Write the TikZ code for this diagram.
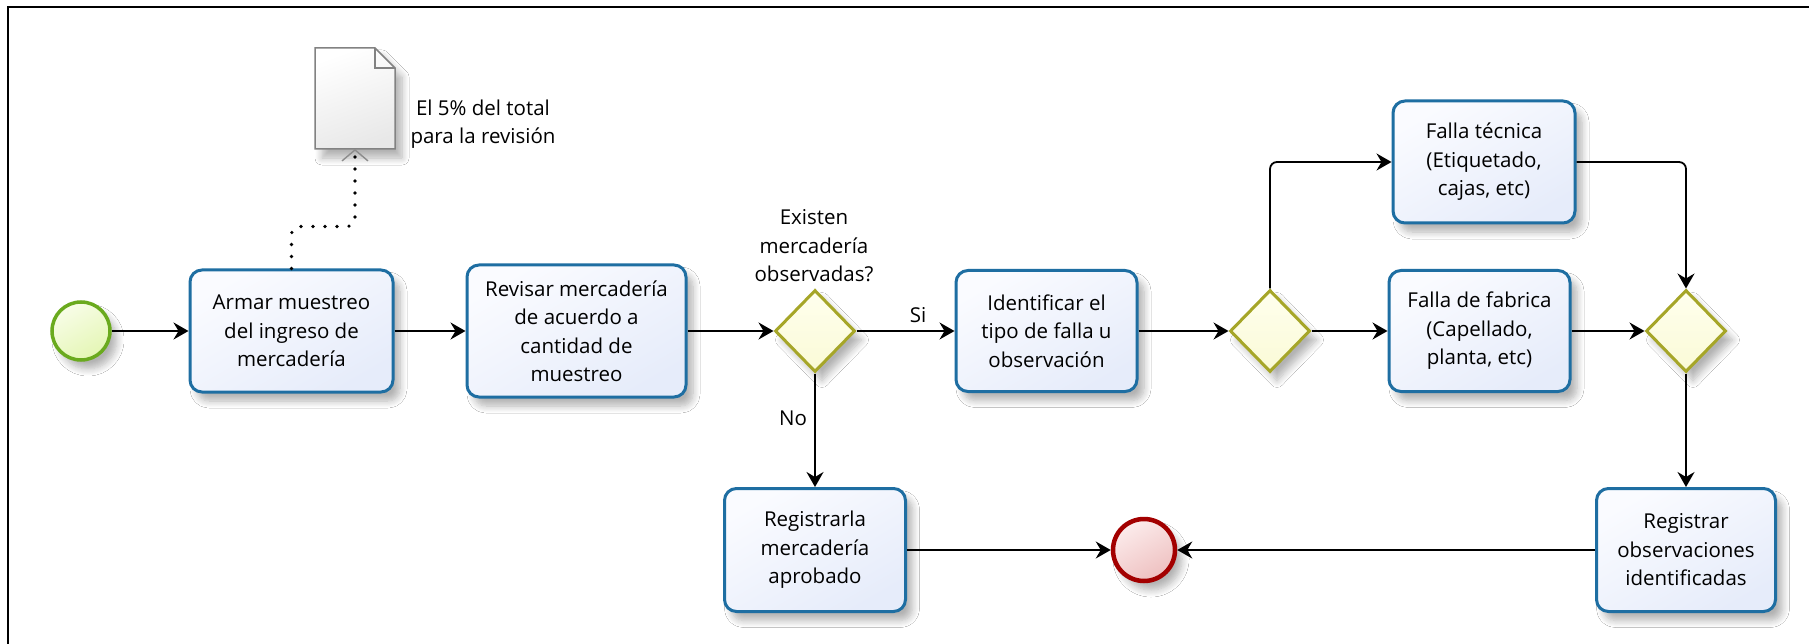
\documentclass[tikz,border=0pt]{standalone}
\usepackage{fontspec}
\setmainfont{Open Sans}
\usetikzlibrary{arrows.meta,shapes.geometric,shadows.blur}
\pgfdeclarelayer{background}
\pgfsetlayers{background,main}

\definecolor{taskline}{RGB}{30,110,162}
\definecolor{taskhi}{RGB}{250,251,255}
\definecolor{tasklo}{RGB}{230,236,250}
\definecolor{gateline}{RGB}{166,166,40}
\definecolor{gatehi}{RGB}{255,255,238}
\definecolor{gatelo}{RGB}{250,250,214}
\definecolor{startline}{RGB}{106,170,30}
\definecolor{starthi}{RGB}{248,253,232}
\definecolor{startlo}{RGB}{228,246,180}
\definecolor{endline}{RGB}{163,0,0}
\definecolor{endhi}{RGB}{252,236,236}
\definecolor{endlo}{RGB}{238,192,192}
\definecolor{docline}{RGB}{130,130,130}

% every sequence flow and the association, drawn with the given styles
\newcommand\bpmnflows[2]{%
  \draw[#1] (start) -- (armar);
  \draw[#1] (armar) -- (revisar);
  \draw[#1] (revisar) -- (gwa.west);
  \draw[#1] (gwa.east) -- (ident);
  \draw[#1] (gwa.south) -- (regapr);
  \draw[#1] (ident) -- (gwb.west);
  \draw[#1, rounded corners=7pt] (gwb.north) |- (tecnica.west);
  \draw[#1] (gwb.east) -- (fabrica);
  \draw[#1, rounded corners=7pt] (tecnica.east) -| (gwc.north);
  \draw[#1] (fabrica) -- (gwc.west);
  \draw[#1] (gwc.south) -- (regobs);
  \draw[#1] (regapr) -- (finish);
  \draw[#1] (regobs) -- (finish);
  \draw[#2, rounded corners=8pt] (armar.north) -- ++(0,-42) -| (doc.south);
}

\begin{document}
\begin{tikzpicture}[x=1pt,y=-1pt,
  every node/.style={font=\fontsize{20.5}{28.5}\selectfont},
  soft/.style={blur shadow={shadow xshift=7pt,shadow yshift=-9pt,
      shadow opacity=30,shadow blur steps=8,shadow blur radius=7pt}},
  task/.style={soft, rectangle, rounded corners=12pt, draw=taskline,
      line width=3pt, top color=taskhi, bottom color=tasklo,
      shading angle=30, align=center, inner sep=0pt},
  gateway/.style={soft, diamond, draw=gateline, line width=3pt,
      top color=gatehi, bottom color=gatelo, minimum width=80pt,
      minimum height=82pt, inner sep=0pt},
  startev/.style={soft, circle, draw=startline, line width=3.5pt,
      top color=starthi, bottom color=startlo, shading angle=30,
      minimum size=58pt, inner sep=0pt},
  endev/.style={soft, circle, draw=endline, line width=4.5pt,
      top color=endhi, bottom color=endlo, shading angle=30,
      minimum size=62pt, inner sep=0pt},
  flow/.style={draw=black, line width=1.8pt,
      -{Stealth[length=15pt,width=17pt,inset=5pt]}},
  ghost/.style={draw=black!5, line width=2.2pt,
      -{Stealth[length=15pt,width=17pt,inset=5pt]},
      transform canvas={shift={(18,18)}}},
  assoc/.style={draw=black, line width=3.6pt, line cap=round,
      dash pattern=on 0pt off 12pt,
      -{Straight Barb[length=11pt,width=26pt,line width=1.4pt,color=black!45]}},
  ghostassoc/.style={draw=black!4, line width=2pt,
      transform canvas={shift={(20,20)}}},
  lbl/.style={align=center, inner sep=0pt}
]
\useasboundingbox (0,0) rectangle (1809,644);
\fill[white] (0,0) rectangle (1809,644);

% frame edges
\draw[line width=2.6pt] (8,644) -- (8,7) -- (1809,7);

% events, tasks and gateways
\node[startev] (start) at (81,331) {};
\node[task, minimum width=203pt, minimum height=122pt] (armar) at (291.5,331)
  {Armar muestreo\\del ingreso de\\mercadería};
\node[task, minimum width=219pt, minimum height=132pt] (revisar) at (576.5,331)
  {Revisar mercadería\\de acuerdo a\\cantidad de\\muestreo};
\node[gateway] (gwa) at (815,331) {};
\node[task, minimum width=181pt, minimum height=121pt] (ident) at (1046.5,331)
  {Identificar el\\tipo de falla u\\observación};
\node[gateway] (gwb) at (1270,331) {};
\node[task, minimum width=182pt, minimum height=122pt] (tecnica) at (1484,162)
  {Falla técnica\\(Etiquetado,\\cajas, etc)};
\node[task, minimum width=181pt, minimum height=121pt] (fabrica) at (1479.5,331)
  {Falla de fabrica\\(Capellado,\\planta, etc)};
\node[gateway] (gwc) at (1686,331) {};
\node[task, minimum width=179pt, minimum height=123pt] (regobs) at (1686,550)
  {Registrar\\observaciones\\identificadas};
\node[task, minimum width=181pt, minimum height=123pt] (regapr) at (815,550)
  {Registrarla\\mercadería\\aprobado};
\node[endev] (finish) at (1144,550) {};

% data object with its note
\node[minimum width=80pt, minimum height=101pt, inner sep=0pt, outer sep=0pt]
  (doc) at (355,98.5) {};
\path[soft, draw=docline, line width=1.5pt, top color=white,
      bottom color=black!9, shading angle=20]
  (doc.south west) -- (doc.north west) -- ([xshift=-20pt]doc.north east)
  -- ([yshift=-20pt]doc.north east) -- (doc.south east) -- cycle;
\draw[docline, line width=1.5pt]
  ([xshift=-20pt]doc.north east) |- ([yshift=-20pt]doc.north east);
\node[lbl] (docnote) at (483,124) {El 5\% del total\\para la revisión};

% labels
\node[lbl] (gwalabel) at (814,246) {Existen\\mercadería\\observadas?};
\node[lbl] (silabel) at (918,315) {Si};
\node[lbl] (nolabel) at (793,418) {No};

% connectors: faint offset copies behind, then the flows themselves
\begin{pgfonlayer}{background}
  \bpmnflows{ghost}{ghostassoc}
\end{pgfonlayer}
\bpmnflows{flow}{assoc}
\end{tikzpicture}
\end{document}
